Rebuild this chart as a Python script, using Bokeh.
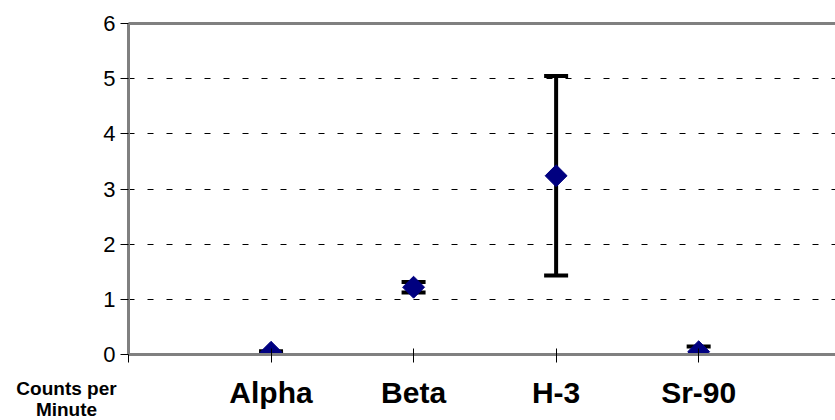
import math
from bokeh.plotting import figure
from bokeh.models import (Range1d, FixedTicker, LinearAxis, Whisker, TeeHead,
                          ColumnDataSource, Label)
from bokeh.embed import file_html
from bokeh.resources import INLINE

# ---- data ----
categories = ["Alpha", "Beta", "H-3", "Sr-90"]
counts = [0.04, 1.22, 3.24, 0.05]
errors = [0.02, 0.095, 1.81, 0.095]
y_ticks = [0, 1, 2, 3, 4, 5, 6]
y_title = "Counts per\nMinute"

positions = [i + 1 for i in range(len(categories))]
upper = [c + e for c, e in zip(counts, errors)]
lower = [c - e for c, e in zip(counts, errors)]

FONT = "Liberation Sans"
GRAY = "#808080"

p = figure(width=835, height=420, output_backend="svg", toolbar_location=None,
           x_range=Range1d(0, 4.96), y_range=Range1d(0, 6),
           min_border_left=128, min_border_right=0, min_border_top=23,
           min_border_bottom=66)
p.outline_line_color = None
p.background_fill_color = "white"
p.border_fill_color = "white"

# grid
p.xgrid.grid_line_color = None
p.ygrid.ticker = FixedTicker(ticks=y_ticks)
p.ygrid.grid_line_color = "black"
p.ygrid.grid_line_width = 1
p.ygrid.grid_line_dash = "6 13"

# y axis
yax = p.left[0]
yax.ticker = FixedTicker(ticks=y_ticks)
yax.axis_line_color = GRAY
yax.axis_line_width = 3
yax.major_tick_in = 0
yax.major_tick_out = 8
yax.minor_tick_line_color = None
yax.major_label_text_font = FONT
yax.major_label_text_font_size = "22px"
yax.major_label_text_color = "black"
yax.major_label_standoff = 5

# x axis
xax = p.below[0]
xax.ticker = FixedTicker(ticks=[0] + positions + [len(categories) + 1])
xax.major_label_overrides = {0: ""} | {pos: c for pos, c in zip(positions, categories)}
xax.axis_line_color = GRAY
xax.axis_line_width = 3
xax.major_tick_in = 6
xax.major_tick_out = 8
xax.minor_tick_line_color = None
xax.major_label_text_font = FONT
xax.major_label_text_font_size = "30px"
xax.major_label_text_font_style = "bold"
xax.major_label_text_color = "black"
xax.major_label_standoff = 13

# top border as an empty axis
top = LinearAxis(ticker=FixedTicker(ticks=[]), axis_line_color=GRAY,
                 axis_line_width=3, major_tick_line_color=None,
                 major_tick_out=0, major_tick_in=0, major_label_standoff=0,
                 minor_tick_line_color=None, major_label_text_font_size="0px")
p.add_layout(top, "above")

# error bars
src = ColumnDataSource(dict(x=positions, y=counts, upper=upper, lower=lower))
w = Whisker(source=src, base="x", upper="upper", lower="lower",
            dimension="height", line_color="black", line_width=4,
            upper_head=TeeHead(size=24, line_width=4, line_color="black"),
            lower_head=TeeHead(size=24, line_width=4, line_color="black"),
            level="underlay")
p.add_layout(w)

# markers
p.scatter(x="x", y="y", source=src, marker="square", angle=math.pi / 4,
          size=15.5, fill_color="#000080", line_color="#000080")

# y title placed under the y axis (in canvas pixels)
lab = Label(x=66, y=377, text=y_title,
            text_font=FONT, text_font_size="19px", text_font_style="bold",
            text_align="center", text_baseline="top", text_color="black",
            text_line_height=1.0)
try:
    lab.x_units = "canvas"
    lab.y_units = "canvas"
except ValueError:
    lab.x_units = "screen"
    lab.y_units = "screen"
p.add_layout(lab, "left")

open("out.html", "w").write(file_html(p, INLINE))
